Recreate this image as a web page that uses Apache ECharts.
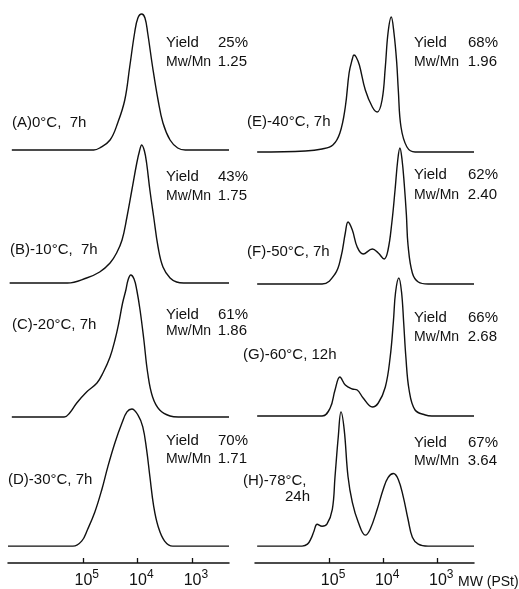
<!DOCTYPE html>
<html>
<head>
<meta charset="utf-8">
<script src="https://cdn.jsdelivr.net/npm/echarts@6/dist/echarts.min.js"></script>
<style>
html,body{margin:0;padding:0;background:#fff;}
#chart{width:519px;height:589px;}
</style>
</head>
<body>
<div id="chart"></div>
<script>
// x = log10(MW, PSt), y = detector response (relative)
const curveA = [[6.30,0],[4.80,0],[4.69,2],[4.50,10],[4.36,27],[4.23,50],[4.14,83],[4.05,117],[3.99,132],[3.92,136],[3.86,132],[3.81,117],[3.72,83],[3.62,50],[3.53,27],[3.40,10],[3.26,2],[3.12,0],[2.32,0]];
const curveB = [[6.34,0],[5.28,0],[4.93,5],[4.69,11],[4.50,20],[4.38,30],[4.28,43],[4.19,66],[4.10,93],[4.01,120],[3.96,132],[3.92,138],[3.87,132],[3.83,120],[3.77,93],[3.70,66],[3.62,36],[3.53,16],[3.40,5],[3.28,1],[3.15,0],[2.32,0]];
const curveC = [[6.30,0],[5.34,0],[5.24,4],[5.11,14],[4.93,25],[4.74,34],[4.63,44],[4.50,60],[4.41,77],[4.34,94],[4.27,114],[4.21,127],[4.17,137],[4.12,142],[4.06,138],[4.01,127],[3.95,107],[3.88,77],[3.81,44],[3.72,20],[3.59,7],[3.40,1],[3.25,0],[2.32,0]];
const curveD = [[6.37,0],[5.18,0],[5.02,5],[4.91,17],[4.78,34],[4.65,57],[4.54,80],[4.41,104],[4.28,124],[4.19,135],[4.10,138],[3.99,132],[3.90,120],[3.83,97],[3.77,70],[3.70,40],[3.62,20],[3.50,5],[3.35,0],[2.32,0]];
const curveE = [[6.33,0],[5.44,1],[5.13,3],[4.93,7],[4.80,19],[4.70,45],[4.63,79],[4.57,93],[4.54,97],[4.50,95],[4.44,87],[4.33,62],[4.20,45],[4.11,40],[4.02,52],[3.96,85],[3.91,119],[3.85,135],[3.80,119],[3.75,90],[3.72,62],[3.67,25],[3.56,5],[3.41,0],[2.32,0]];
const curveF = [[6.33,0],[5.13,0],[4.89,10],[4.78,27],[4.70,51],[4.65,62],[4.57,54],[4.48,37],[4.37,30],[4.20,35],[4.09,31],[3.98,25],[3.91,34],[3.84,61],[3.78,94],[3.73,124],[3.69,136],[3.65,124],[3.61,100],[3.57,69],[3.54,39],[3.46,11],[3.35,2],[3.17,0],[2.32,0]];
const curveG = [[6.33,0],[5.13,0],[4.98,8],[4.89,26],[4.80,39],[4.70,31],[4.57,27],[4.48,26],[4.37,18],[4.20,9],[4.09,13],[3.96,29],[3.87,59],[3.81,95],[3.77,124],[3.71,138],[3.66,124],[3.62,93],[3.58,59],[3.52,26],[3.41,6],[3.22,1],[3.10,0],[2.32,0]];
const curveH = [[6.33,0],[5.50,0],[5.40,2],[5.33,8],[5.28,15],[5.22,22],[5.13,20],[5.04,22],[4.94,37],[4.89,70],[4.83,110],[4.78,135],[4.72,117],[4.65,70],[4.57,44],[4.46,24],[4.33,11],[4.24,17],[4.11,37],[4.00,57],[3.91,69],[3.81,73],[3.72,67],[3.63,50],[3.54,27],[3.46,9],[3.35,2],[3.17,0],[2.32,0]];

const panelLabels = ['(A)0°C,  7h','(B)-10°C,  7h','(C)-20°C, 7h','(D)-30°C, 7h','(E)-40°C, 7h','(F)-50°C, 7h','(G)-60°C, 12h','(H)-78°C,'];
const yields = ['25%','43%','61%','70%','68%','62%','66%','67%'];
const pdis = ['1.25','1.75','1.86','1.71','1.96','2.40','2.68','3.64'];
const tickValues = [5,4,3];
const axisUnit = 'MW (PSt)';

const curves = [curveA,curveB,curveC,curveD,curveE,curveF,curveG,curveH];

// layout (pixels)
const baselines = [150,283,417,547,152,284,416,547];
const colLeft = [8,255], colWidth = [221,219];
const labelPos = [[12,123],[10,250],[12,325],[8,480],[247,122],[247,252],[243,355],[243,481]];
const yieldY = [43,177,315,441,43,175,318,443];
const pdiY = [62,196,331,459,62,195,337,461];
const annoX = [166,414], valX = [248,498];
const FONT = "'Liberation Sans', Arial, sans-serif";

const grids=[], xAxes=[], yAxes=[], series=[], graphics=[];
curves.forEach((c,i)=>{
  const col = i<4?0:1;
  const bottom = (i%4)===3;
  grids.push({left:colLeft[col], width:colWidth[col], top:baselines[i]-150, height:167});
  xAxes.push({
    type:'value', gridIndex:i, min:2.32, max:6.37, inverse:true, show:bottom,
    axisLine:{show:true,onZero:false,lineStyle:{color:'#111',width:1.5}},
    axisTick:{show:true,inside:true,length:5,customValues:tickValues,lineStyle:{color:'#111',width:1.3}},
    splitLine:{show:false},
    axisLabel:{show:true,customValues:tickValues,margin:6,color:'#111',fontFamily:FONT,
      formatter:v=>'{b|10}{s|'+v+'}',
      rich:{b:{fontSize:16,fontFamily:FONT,color:'#111',verticalAlign:'bottom',lineHeight:20,padding:[0,0,0,8]},
            s:{fontSize:12,fontFamily:FONT,color:'#111',verticalAlign:'top',lineHeight:20}}}
  });
  yAxes.push({type:'value',gridIndex:i,min:-17,max:150,show:false});
  series.push({type:'line',xAxisIndex:i,yAxisIndex:i,data:c,showSymbol:false,smooth:0.4,
    lineStyle:{color:'#111',width:1.4},animation:false,silent:true});
  const t=(x,y,text,align,size)=>graphics.push({type:'text',x:x,y:y,silent:true,
    style:{text:text,fontSize:size||15,fontFamily:FONT,fill:'#111',align:align||'left',verticalAlign:'middle'}});
  t(labelPos[i][0],labelPos[i][1],panelLabels[i]);
  t(annoX[col],yieldY[i],'Yield');
  t(valX[col],yieldY[i],yields[i],'right');
  t(annoX[col],pdiY[i],'Mw/Mn','left',14);
  t(valX[col]-1,pdiY[i],pdis[i],'right');
});
graphics.push({type:'text',x:310,y:497,silent:true,style:{text:'24h',fontSize:15,fontFamily:FONT,fill:'#111',align:'right',verticalAlign:'middle'}});
graphics.push({type:'text',x:458,y:582,silent:true,style:{text:axisUnit,fontSize:14,fontFamily:FONT,fill:'#111',align:'left',verticalAlign:'middle'}});

const chart = echarts.init(document.getElementById('chart'),null,{renderer:'canvas'});
chart.setOption({backgroundColor:'#fff',animation:false,grid:grids,xAxis:xAxes,yAxis:yAxes,series:series,graphic:graphics});
</script>
</body>
</html>
